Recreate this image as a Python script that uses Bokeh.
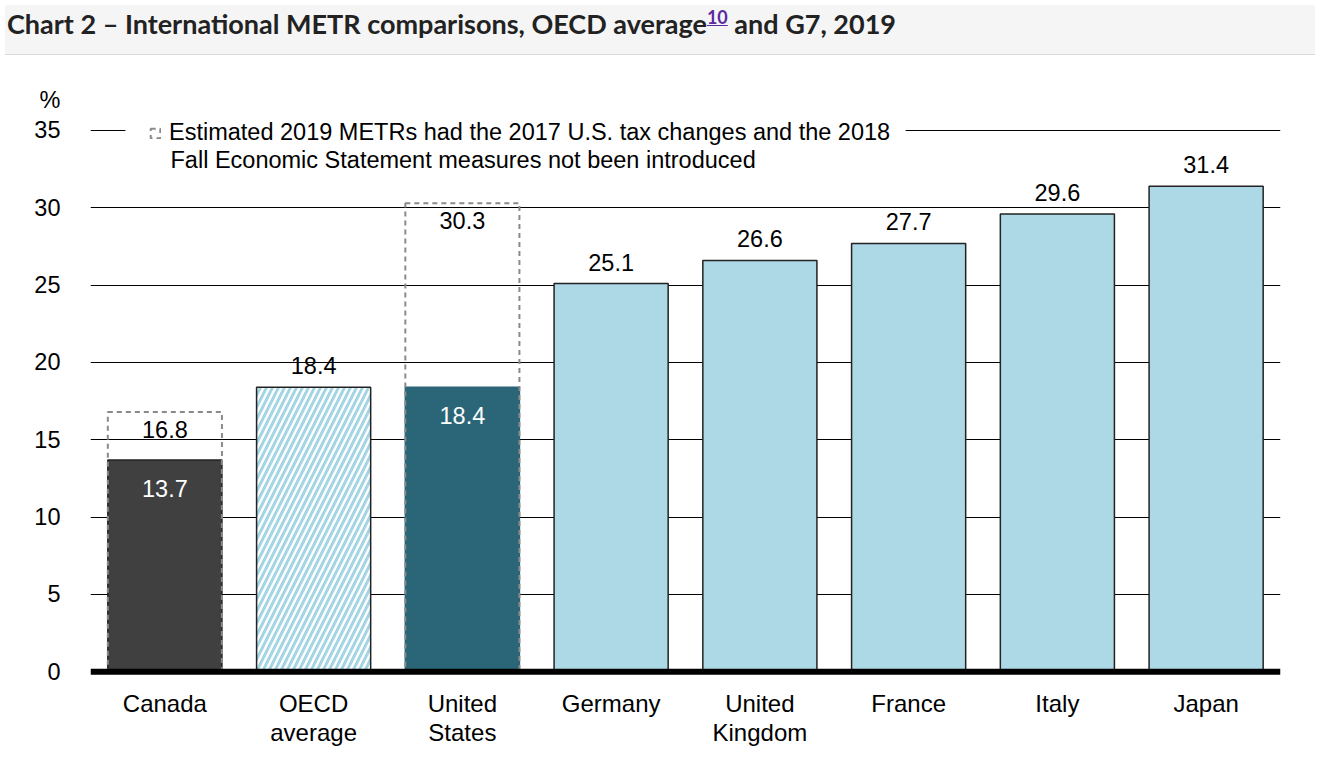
from bokeh.plotting import figure
from bokeh.models import (ColumnDataSource, FactorRange, Range1d, FixedTicker, Label,
                          Legend, LegendItem, Div, Span, BoxAnnotation)
from bokeh.layouts import column
from bokeh.embed import file_html
from bokeh.resources import INLINE
from bokeh.core.properties import value

# ---------------- data ----------------
categories = ["Canada", "OECD average", "United States", "Germany",
              "United Kingdom", "France", "Italy", "Japan"]
tick_labels = ["Canada", "OECD\naverage", "United\nStates", "Germany",
               "United\nKingdom", "France", "Italy", "Japan"]
metr_2019 = [13.7, 18.4, 18.4, 25.1, 26.6, 27.7, 29.6, 31.4]
counterfactual_categories = ["Canada", "United States"]
counterfactual_metr = [16.8, 30.3]
y_ticks = [0, 5, 10, 15, 20, 25, 30, 35]
unit_label = "%"
legend_line_1 = "Estimated 2019 METRs had the 2017 U.S. tax changes and the 2018"
legend_line_2 = "Fall Economic Statement measures not been introduced"
title_text = "Chart 2 \u2013 International METR comparisons, OECD average"
title_note = "10"
title_tail = " and G7, 2019"

# ---------------- style ----------------
FONT = "Liberation Sans"
DARK = "#404040"
TEAL = "#2a6677"
LIGHT = "#add8e6"
HATCH = "#a3d5e5"
BAR_W = 0.767
FS = "23.5px"
inside_label_cats = {"Canada", "United States"}
fills = {"Canada": DARK, "OECD average": "white", "United States": TEAL}


def colour(c):
    return fills.get(c, LIGHT)


plain = [(c, v) for c, v in zip(categories, metr_2019) if c != "OECD average"]
hatched = [(c, v) for c, v in zip(categories, metr_2019) if c == "OECD average"]

src_plain = ColumnDataSource(dict(
    cat=[c for c, _ in plain], val=[v for _, v in plain],
    fill=[colour(c) for c, _ in plain],
    line=[TEAL if c == "United States" else "#222222" for c, _ in plain]))
src_hatch = ColumnDataSource(dict(cat=[c for c, _ in hatched], val=[v for _, v in hatched]))
src_cf = ColumnDataSource(dict(cat=counterfactual_categories, val=counterfactual_metr,
                               lab=[f"{v:.1f}" for v in counterfactual_metr]))

above = [(c, v) for c, v in zip(categories, metr_2019) if c not in inside_label_cats]
inside = [(c, v) for c, v in zip(categories, metr_2019) if c in inside_label_cats]
src_above = ColumnDataSource(dict(cat=[c for c, _ in above], val=[v for _, v in above],
                                  lab=[f"{v:.1f}" for _, v in above]))
src_inside = ColumnDataSource(dict(cat=[c for c, _ in inside], val=[v for _, v in inside],
                                   lab=[f"{v:.1f}" for _, v in inside]))
src_ticks = ColumnDataSource(dict(cat=categories, base=[0 for _ in categories],
                                  lab=tick_labels))

# ---------------- title ----------------
title = Div(
    text=(f'<div style="font-family:Lato;font-weight:700;font-size:27px;color:#222;'
          f'padding:0 2px 0 2px;white-space:nowrap;">{title_text}'
          f'<sup style="font-size:18px;"><a style="color:#5b2aa0;text-decoration:underline;">'
          f'{title_note}</a></sup>{title_tail}</div>'),
    width=1310, height=50,
    styles={"background-color": "#f5f5f5", "border-bottom": "1px solid #d9d9d9"})

# ---------------- figure ----------------
p = figure(x_range=FactorRange(*categories), y_range=Range1d(-5.347, 37.457),
           width=1310, height=702, output_backend="svg", toolbar_location=None,
           min_border_left=90, min_border_right=30, min_border_top=32,
           min_border_bottom=8)
p.outline_line_color = None
p.background_fill_color = "white"

p.xgrid.visible = False
p.ygrid.ticker = FixedTicker(ticks=[t for t in y_ticks if t > 0])
p.ygrid.grid_line_color = "black"
p.ygrid.grid_line_width = 1

unit_tick = y_ticks[-1] + 2
p.yaxis.ticker = FixedTicker(ticks=y_ticks + [unit_tick])
p.yaxis.major_label_overrides = {unit_tick: unit_label}
p.yaxis.axis_line_color = None
p.yaxis.major_tick_line_color = None
p.yaxis.minor_tick_line_color = None
p.yaxis.major_label_standoff = 24
p.yaxis.major_label_text_font = FONT
p.yaxis.major_label_text_font_size = FS
p.yaxis.major_label_text_color = "black"
p.xaxis.visible = False

p.vbar(x="cat", top="val", width=BAR_W, source=src_plain, fill_color="fill",
       line_color="line", line_width=1.5)
p.vbar(x="cat", top="val", width=BAR_W, source=src_hatch, fill_color="white",
       line_color="#222222", line_width=1.5, hatch_pattern="right_diagonal_line",
       hatch_color=HATCH, hatch_weight=3, hatch_scale=12)
r_cf = p.vbar(x="cat", top="val", width=BAR_W, source=src_cf, fill_color=None,
              line_color="#8a8a8a", line_width=2, line_dash="5 4")

p.add_layout(Span(location=0, dimension="width", line_color="black", line_width=6))

p.text(x="cat", y="val", text="lab", source=src_above, text_align="center",
       text_baseline="bottom", y_offset=-13, text_font=value(FONT),
       text_font_size=FS, text_color="black")
p.text(x="cat", y="val", text="lab", source=src_inside, text_align="center",
       text_baseline="top", y_offset=20, text_font=value(FONT),
       text_font_size=FS, text_color="white")
p.text(x="cat", y="val", text="lab", source=src_cf, text_align="center",
       text_baseline="top", y_offset=9, text_font=value(FONT),
       text_font_size=FS, text_color="black")
p.text(x="cat", y="base", text="lab", source=src_ticks, text_align="center",
       text_baseline="top", y_offset=18, text_font=value(FONT),
       text_font_size="24px", text_color="black", text_line_height=1.1)

# white backdrop that interrupts the top gridline behind the legend
p.add_layout(BoxAnnotation(left=0.235, right=5.48, bottom=y_ticks[-1] - 0.6,
                           top=y_ticks[-1] + 0.6, fill_color="white", fill_alpha=1.0,
                           line_color=None))

legend = Legend(items=[LegendItem(label=legend_line_1, renderers=[r_cf])],
                location=(59, 608), margin=0, padding=18, spacing=0,
                glyph_width=12, glyph_height=12, label_standoff=8,
                label_text_font=FONT, label_text_font_size=FS,
                label_text_color="black", border_line_color=None,
                background_fill_color="white", background_fill_alpha=1.0)
p.add_layout(legend)

p.add_layout(Label(x=0, y=33.12, x_offset=80, text=legend_line_2, text_font=FONT,
                   text_font_size=FS, text_baseline="middle", text_align="left",
                   text_color="black", level="overlay"))

layout = column(title, p, spacing=0)
open("out.html", "w").write(file_html(layout, INLINE))
